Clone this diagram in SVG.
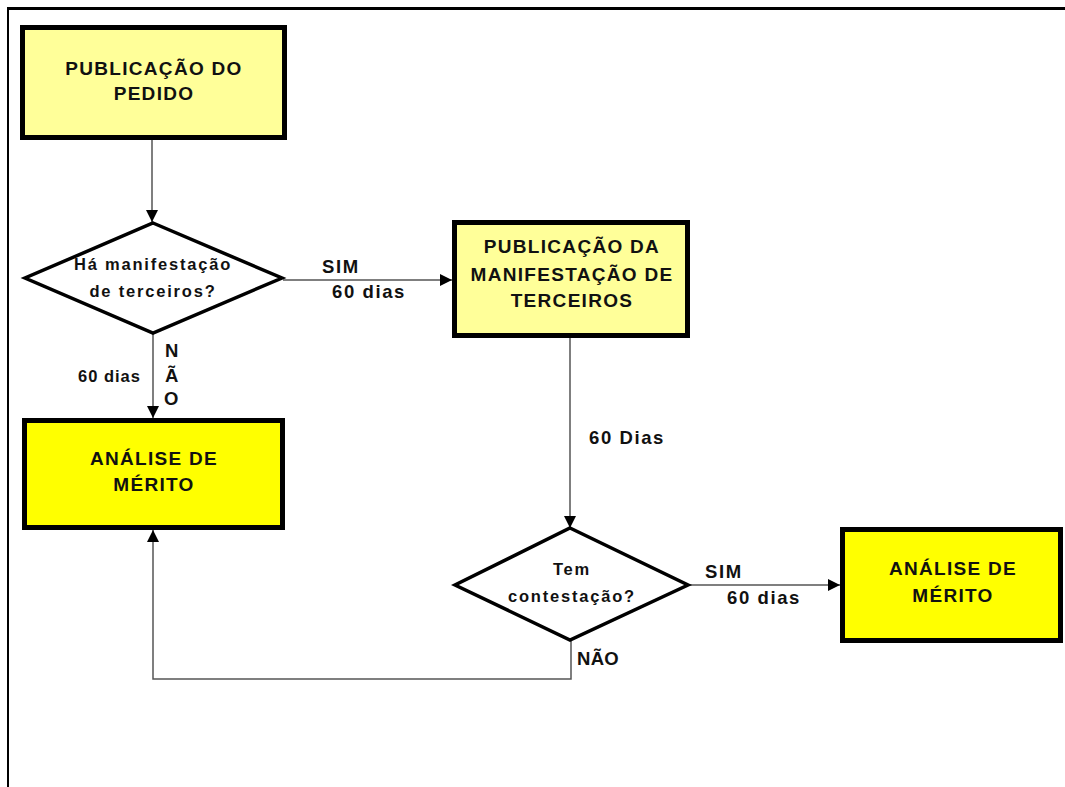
<svg xmlns="http://www.w3.org/2000/svg" width="1065" height="787" viewBox="0 0 1065 787">
<style>
.box{stroke:#000;stroke-width:5}
.pale{fill:#FFFF99}
.bright{fill:#FFFF00}
.dia{fill:#fff;stroke:#000;stroke-width:3.5;stroke-linejoin:miter}
.con{fill:none;stroke:#555;stroke-width:1.5}
text{font-family:"Liberation Sans",Arial,sans-serif;font-weight:bold;fill:#111}
.bt{font-size:19px;letter-spacing:1.3px;text-anchor:middle}
.dt{font-size:16.5px;letter-spacing:1.8px;text-anchor:middle}
.lb{font-size:18.5px;letter-spacing:1.6px}
</style>
<defs>
<marker id="ah" markerWidth="12" markerHeight="12" refX="12" refY="6" orient="auto" markerUnits="userSpaceOnUse">
<path d="M0,0 L12,6 L0,12 Z" fill="#000"/>
</marker>
</defs>
<rect width="1065" height="787" fill="#fff"/>
<g id="frame">
<line x1="8" y1="8.5" x2="1065" y2="8.5" stroke="#000" stroke-width="3"/>
<line x1="8" y1="7" x2="8" y2="787" stroke="#000" stroke-width="2"/>
</g>
<g id="connectors">
<line class="con" x1="152" y1="140" x2="152" y2="222" marker-end="url(#ah)"/>
<line class="con" x1="283" y1="280" x2="452" y2="280" marker-end="url(#ah)"/>
<line class="con" x1="153" y1="333" x2="153" y2="418" marker-end="url(#ah)"/>
<line class="con" x1="570" y1="338" x2="570" y2="528" marker-end="url(#ah)"/>
<line class="con" x1="688" y1="585" x2="840" y2="585" marker-end="url(#ah)"/>
<polyline class="con" points="571,640 571,679 153,679 153,530" marker-end="url(#ah)"/>
</g>
<g id="n1">
<rect class="box pale" x="22.5" y="27.5" width="262" height="110"/>
<text class="bt" x="154" y="75">PUBLICAÇÃO DO</text>
<text class="bt" x="154" y="100">PEDIDO</text>
</g>
<g id="d1">
<polygon class="dia" points="153,223 282,278 153,333 25,278"/>
<text class="dt" x="153" y="270">Há manifestação</text>
<text class="dt" x="153" y="297">de terceiros?</text>
</g>
<g id="n2">
<rect class="box pale" x="454.5" y="222.5" width="233" height="113"/>
<text class="bt" x="572" y="253">PUBLICAÇÃO DA</text>
<text class="bt" x="572" y="281">MANIFESTAÇÃO DE</text>
<text class="bt" x="572" y="307">TERCEIROS</text>
</g>
<g id="n4">
<rect class="box bright" x="24.5" y="420.5" width="258" height="107"/>
<text class="bt" x="154" y="465">ANÁLISE DE</text>
<text class="bt" x="154" y="491">MÉRITO</text>
</g>
<g id="d2">
<polygon class="dia" points="570,528 688,585 570,640 455,585"/>
<text class="dt" x="572" y="575">Tem</text>
<text class="dt" x="572" y="602">contestação?</text>
</g>
<g id="n3">
<rect class="box bright" x="842.5" y="529.5" width="218" height="111"/>
<text class="bt" x="953" y="575">ANÁLISE DE</text>
<text class="bt" x="953" y="602">MÉRITO</text>
</g>
<g id="labels">
<text class="lb" x="322" y="273">SIM</text>
<text class="lb" x="332" y="298">60 dias</text>
<text class="lb" x="165" y="357">N</text>
<text class="lb" x="165" y="382">Ã</text>
<text class="lb" x="164" y="405">O</text>
<text class="lb" x="78" y="382" style="font-size:16.5px;letter-spacing:1px">60 dias</text>
<text class="lb" x="589" y="444">60 Dias</text>
<text class="lb" x="705" y="578">SIM</text>
<text class="lb" x="727" y="604">60 dias</text>
<text class="lb" x="577" y="665" style="letter-spacing:0.3px">NÃO</text>
</g>
</svg>
